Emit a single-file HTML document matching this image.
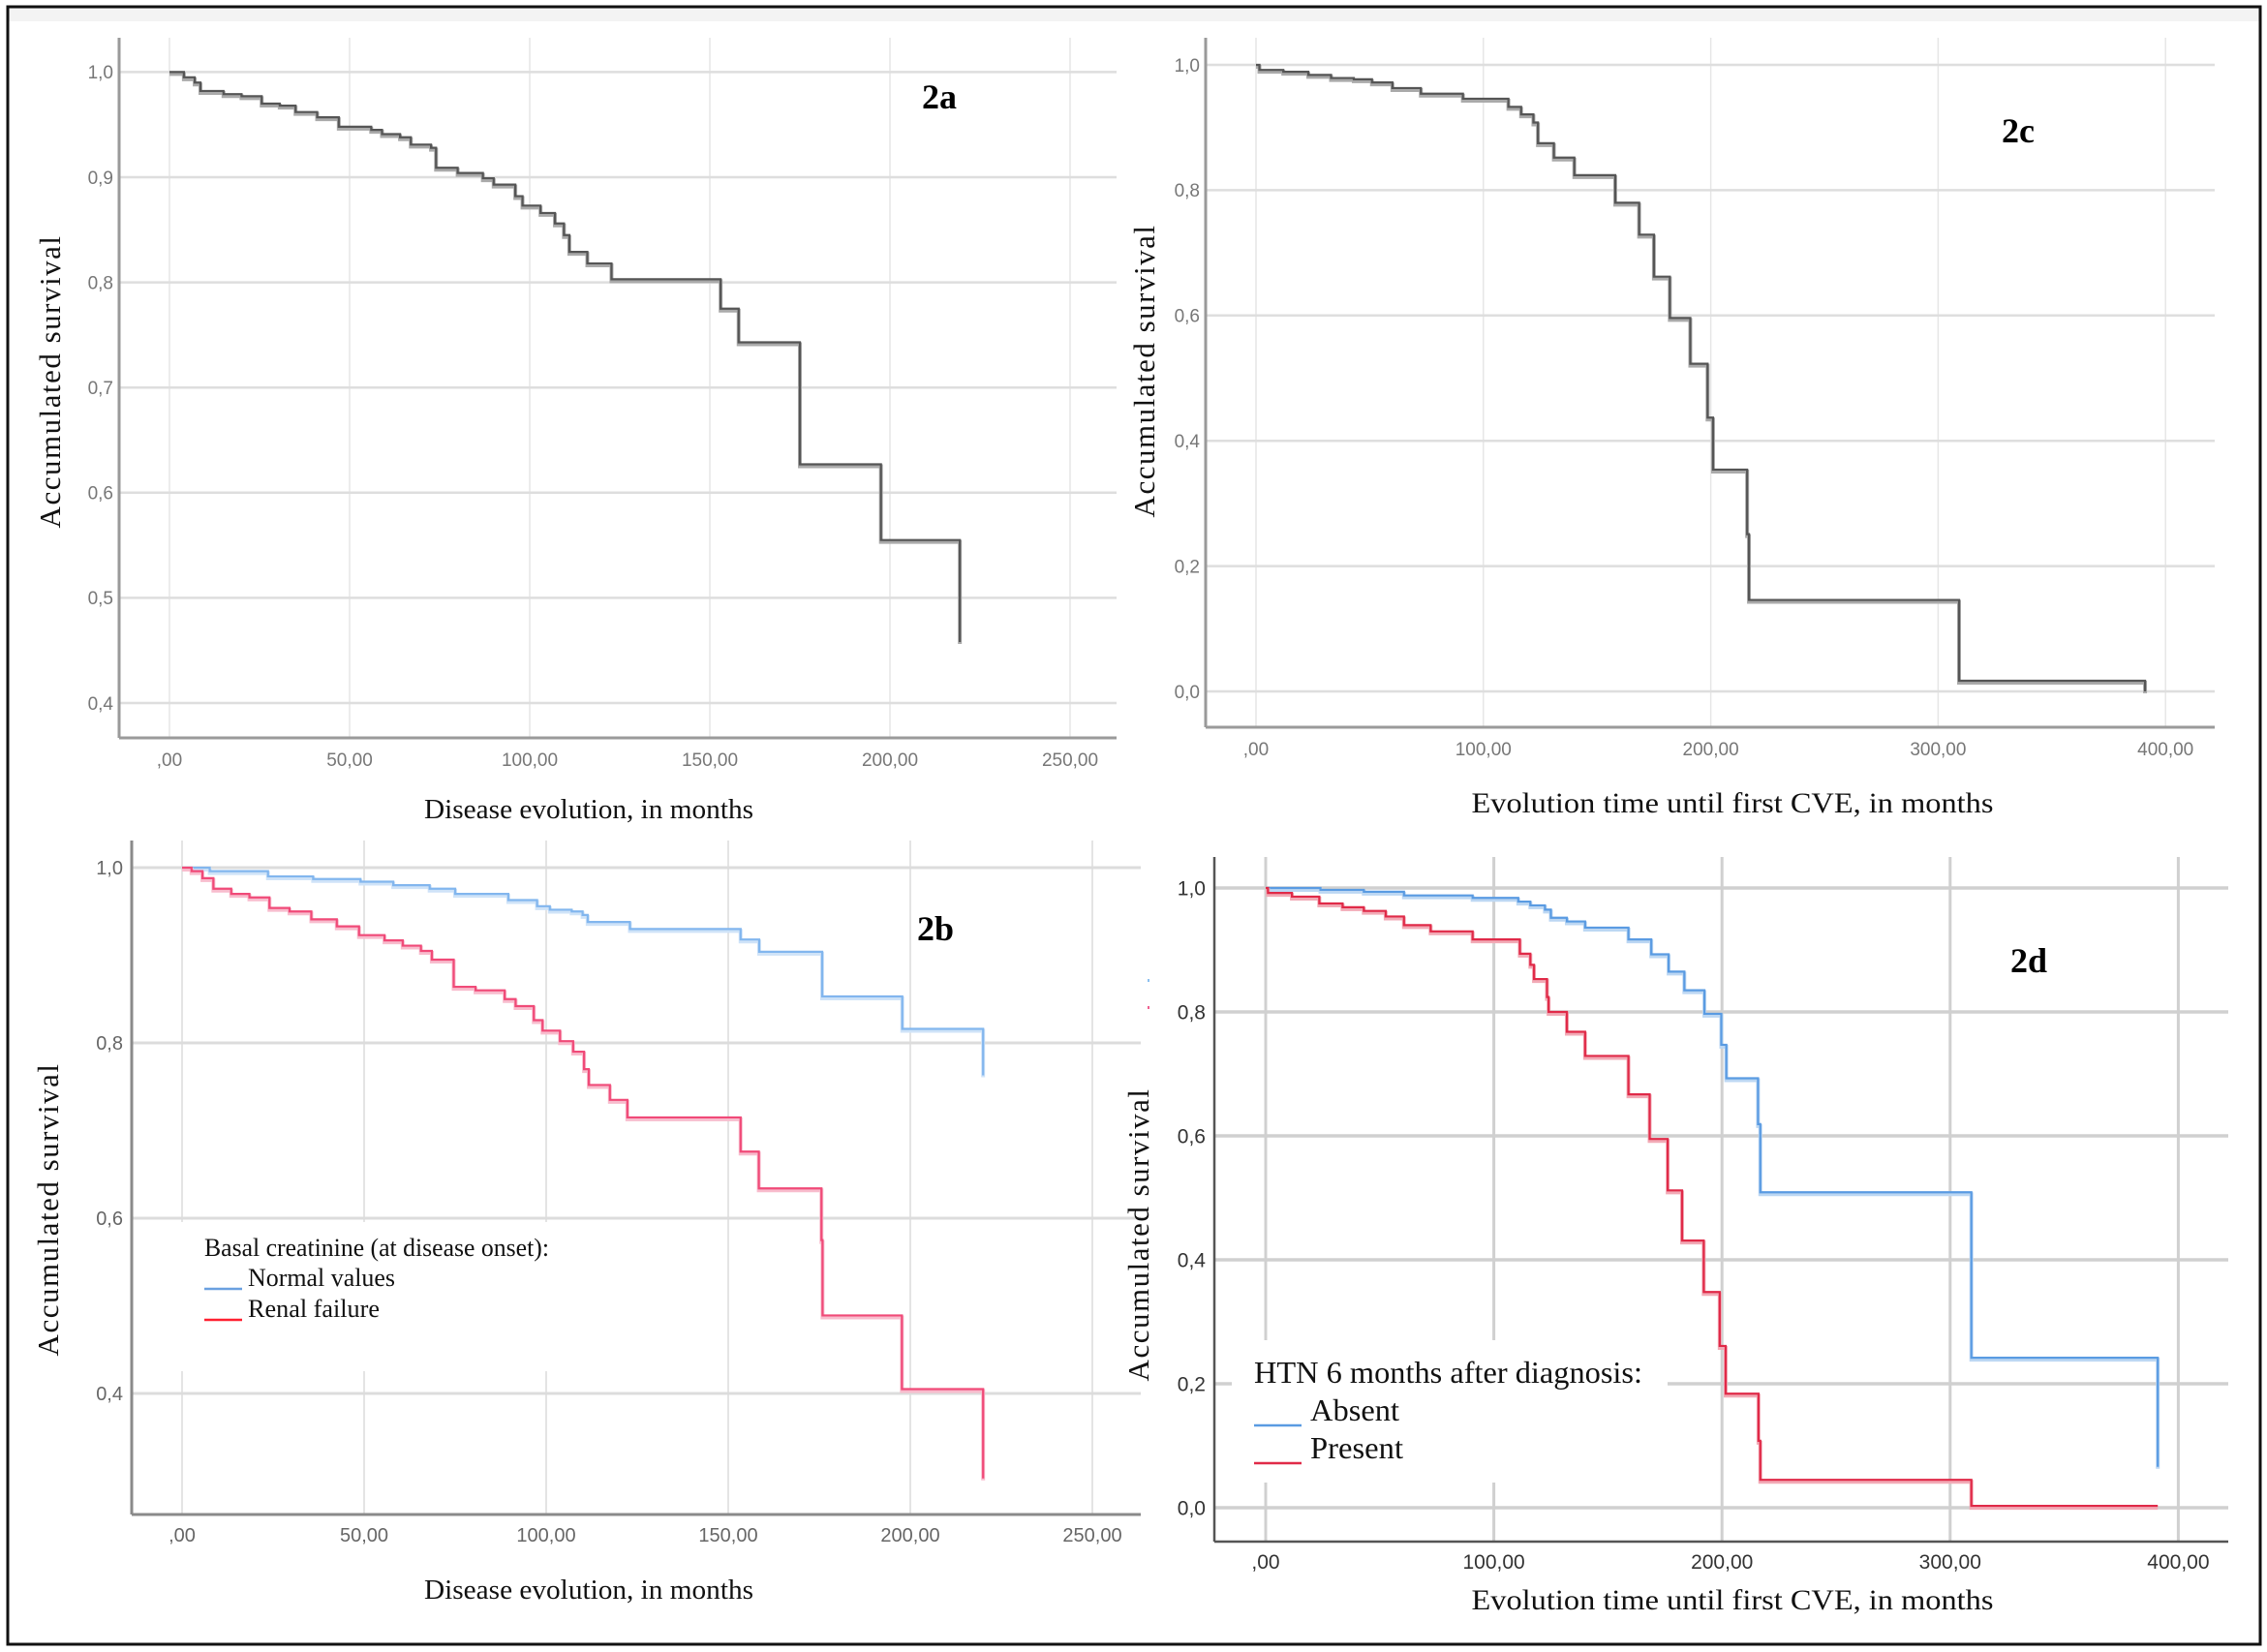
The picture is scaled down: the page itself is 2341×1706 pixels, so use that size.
<!DOCTYPE html>
<html><head><meta charset="utf-8">
<style>
html,body{margin:0;padding:0;background:#fff;}
svg{display:block;}
</style></head>
<body>
<svg id="fig" xmlns="http://www.w3.org/2000/svg" width="2341" height="1706" viewBox="0 0 2341 1706">
<rect x="0" y="0" width="2341" height="1706" fill="#fff"/>
<rect x="9" y="8" width="2324" height="14" fill="#f3f3f3"/>
<rect x="8" y="7" width="2326" height="1691" fill="none" stroke="#111" stroke-width="3"/>
</svg>
<script>
// ---- Panel 2a data ----
const aTimes = [0,4,7,8.6,15,20,25.6,30.6,35,41,47,56,59,64,67,72.6,74,80,87,90,96,98,103,107,109.5,111,116,122.7,153,158,175,197.5];
const aSurv  = [1.0,0.995,0.99,0.982,0.979,0.977,0.970,0.968,0.962,0.957,0.948,0.945,0.941,0.938,0.931,0.928,0.909,0.904,0.899,0.893,0.882,0.873,0.866,0.856,0.845,0.829,0.818,0.803,0.775,0.743,0.627,0.555];
const aEnd = [219.4,0.458];
const aXTicks = [0,50,100,150,200,250];
const aXTickLabels = [",00","50,00","100,00","150,00","200,00","250,00"];
const aYTicks = [0.4,0.5,0.6,0.7,0.8,0.9,1.0];
const aYTickLabels = ["0,4","0,5","0,6","0,7","0,8","0,9","1,0"];

// ---- Panel 2c data ----
const cTimes = [0,1.5,12,23,33,43,51,60,72.5,91,111,116.6,122,124,131,140,158,168.5,175,182,191,198.6,201,216,216.8,309.2];
const cSurv  = [1.0,0.992,0.989,0.984,0.979,0.977,0.972,0.963,0.954,0.946,0.933,0.921,0.908,0.875,0.852,0.824,0.780,0.729,0.662,0.596,0.523,0.437,0.354,0.251,0.146,0.017];
const cEnd = [391,0.0];
const cXTicks = [0,100,200,300,400];
const cXTickLabels = [",00","100,00","200,00","300,00","400,00"];
const cYTicks = [0,0.2,0.4,0.6,0.8,1.0];
const cYTickLabels = ["0,0","0,2","0,4","0,6","0,8","1,0"];

// ---- Panel 2b data ----
const bNormTimes = [0,7.6,23.6,36,49,58,68,75,89.6,97.5,101,107,110,111.4,123,153.4,158.5,175.8,197.8];
const bNormSurv  = [1.0,0.996,0.990,0.987,0.984,0.980,0.976,0.970,0.963,0.956,0.952,0.950,0.946,0.938,0.930,0.918,0.904,0.853,0.816];
const bNormEnd = [220,0.763];
const bRenTimes = [0,2.6,5.6,8.6,13.5,18.5,24,29.5,35.5,42.5,48.6,55.6,60.6,65.6,68.6,74.6,80.6,88.6,91.6,96.6,99,103.8,107.4,110.4,111.7,117.5,122.3,153.4,158.4,175.6,175.9,197.7];
const bRenSurv  = [1.0,0.996,0.988,0.976,0.970,0.966,0.954,0.950,0.941,0.933,0.923,0.917,0.911,0.905,0.895,0.864,0.860,0.850,0.842,0.826,0.814,0.802,0.790,0.770,0.752,0.735,0.715,0.676,0.634,0.575,0.489,0.405];
const bRenEnd = [220,0.303];
const bXTicks = [0,50,100,150,200,250];
const bXTickLabels = [",00","50,00","100,00","150,00","200,00","250,00"];
const bYTicks = [0.4,0.6,0.8,1.0];
const bYTickLabels = ["0,4","0,6","0,8","1,0"];

// ---- Panel 2d data ----
const dAbsTimes = [0,24,43,60.6,90.7,110.7,116,122.4,125,132,140,159,169,176.6,183.5,192.3,199.7,201.9,215.8,216.8,309.3];
const dAbsSurv  = [1.0,0.997,0.994,0.988,0.984,0.978,0.972,0.965,0.952,0.946,0.936,0.917,0.893,0.865,0.835,0.797,0.747,0.693,0.619,0.509,0.242];
const dAbsEnd = [391,0.066];
const dPreTimes = [0,1,11.5,23.5,33.7,43,52.6,60.6,72.3,90.7,111.4,116,117.6,123.3,124,132,140,159,168.3,176.2,182.5,192,199,201.6,216,216.8,309.3];
const dPreSurv  = [1.0,0.992,0.986,0.975,0.969,0.963,0.954,0.940,0.930,0.917,0.894,0.876,0.853,0.824,0.800,0.768,0.729,0.667,0.595,0.512,0.431,0.348,0.261,0.184,0.108,0.045,0.003];
const dPreEnd = [391,0.003];
const dXTicks = [0,100,200,300,400];
const dXTickLabels = [",00","100,00","200,00","300,00","400,00"];
const dYTicks = [0,0.2,0.4,0.6,0.8,1.0];
const dYTickLabels = ["0,0","0,2","0,4","0,6","0,8","1,0"];

const NS = "http://www.w3.org/2000/svg";
const svg = document.getElementById('fig');
function mk(tag, attrs, parent){
  const e = document.createElementNS(NS, tag);
  for (const k in attrs) e.setAttribute(k, attrs[k]);
  (parent||svg).appendChild(e);
  return e;
}
function panel(cfg){
  const g = mk('g', {});
  
  
  const X = v => cfg.x0 + v*cfg.ppx;
  const Y = v => cfg.y1 + (1 - v)*cfg.ppu;
  cfg.xTicks.forEach((t,i)=>{
    const l = mk('line', {x1:X(t), x2:X(t), y1:cfg.top, y2:cfg.bottom, stroke:cfg.vgrid, 'stroke-width':cfg.vgw}, g);
    
    
  });
  cfg.yTicks.forEach((t,i)=>{
    const l = mk('line', {x1:cfg.axisX, x2:cfg.right, y1:Y(t), y2:Y(t), stroke:cfg.hgrid, 'stroke-width':cfg.hgw}, g);
    
    
  });
  if (cfg.mask){
    const m = mk('rect', {x:cfg.mask[0], y:cfg.mask[1], width:cfg.mask[2], height:cfg.mask[3], fill:'#fff'}, g);
    
    
  }
  const ya = mk('line', {x1:cfg.axisX, x2:cfg.axisX, y1:cfg.top, y2:cfg.bottom, stroke:cfg.axisCol, 'stroke-width':cfg.axW}, g);
  
  
  const xa = mk('line', {x1:cfg.axisX, x2:cfg.right, y1:cfg.bottom, y2:cfg.bottom, stroke:cfg.axisCol, 'stroke-width':cfg.axW}, g);
  
  
  cfg.xTicks.forEach((t,i)=>{
    const tx = mk('text', {x:X(t), y:cfg.xLabY, 'text-anchor':'middle', 'font-family':cfg.tickFont, 'font-size':cfg.tickSize, fill:cfg.tickCol}, g);
    tx.textContent = cfg.xTickLabels[i];
    
    
  });
  cfg.yTicks.forEach((t,i)=>{
    const tx = mk('text', {x:cfg.yLabX, y:Y(t)+cfg.tickSize*0.36, 'text-anchor':'end', 'font-family':cfg.tickFont, 'font-size':cfg.tickSize, fill:cfg.tickCol}, g);
    tx.textContent = cfg.yTickLabels[i];
    
    
  });
  cfg.series.forEach(s=>{
    let d = 'M' + X(s.t[0]) + ' ' + Y(s.s[0]);
    for (let i=1;i<s.t.length;i++){
      d += ' H' + X(s.t[i]) + ' V' + Y(s.s[i]);
    }
    d += ' H' + X(s.end[0]) + ' V' + Y(s.end[1]);
    const band = mk('path', {d:d, fill:'none', stroke:s.band, 'stroke-width':4, transform:'translate(0,2)'}, g);
    
    
    const p = mk('path', {d:d, fill:'none', stroke:s.col, 'stroke-width':2.2}, g);
    
    
  });
  const xt = mk('text', {x:cfg.xTitle[0], y:cfg.xTitle[1], 'text-anchor':'middle', 'font-family':'"Liberation Serif", serif', 'font-size':cfg.xTitle[3], fill:'#111', textLength:cfg.xTitle[2], lengthAdjust:'spacingAndGlyphs'}, g);
  xt.textContent = cfg.xTitleText;
  
  
  const yt = mk('text', {x:0, y:0, 'text-anchor':'middle', 'font-family':'"Liberation Serif", serif', 'font-size':31, fill:'#111', 'letter-spacing':'1.5', transform:'translate('+cfg.yTitle[0]+','+cfg.yTitle[1]+') rotate(-90)'}, g);
  yt.textContent = 'Accumulated survival';
  
  
  const pl = mk('text', {x:cfg.label[0], y:cfg.label[1]+12, 'text-anchor':'middle', 'font-family':'"Liberation Serif", serif', 'font-size':36, 'font-weight':'bold', fill:'#000'}, g);
  pl.textContent = cfg.id;
  
  
  return g;
}
const narrow = '"Liberation Sans Narrow", "Liberation Sans", sans-serif';
panel({id:'2a', x0:175, ppx:3.72, y1:74.4, ppu:1086, axisX:123, top:39, bottom:762, right:1153,
  vgrid:'#e6e6e6', vgw:1.5, hgrid:'#dedede', hgw:2.5, axisCol:'#9a9a9a', axW:3,
  xTicks:aXTicks, xTickLabels:aXTickLabels, yTicks:aYTicks, yTickLabels:aYTickLabels,
  xLabY:791, yLabX:117, tickFont:narrow, tickSize:19, tickCol:'#777',
  series:[{name:'survival-2a', t:aTimes, s:aSurv, end:aEnd, col:'#555', band:'#aaa'}],
  xTitle:[608,845,340,29], xTitleText:'Disease evolution, in months', yTitle:[62,394], label:[970,100]});
panel({id:'2c', x0:1297, ppx:2.348, y1:67, ppu:647, axisX:1245, top:39, bottom:751, right:2287,
  vgrid:'#e6e6e6', vgw:1.5, hgrid:'#dedede', hgw:2.5, axisCol:'#9a9a9a', axW:3,
  xTicks:cXTicks, xTickLabels:cXTickLabels, yTicks:cYTicks, yTickLabels:cYTickLabels,
  xLabY:780, yLabX:1239, tickFont:narrow, tickSize:19, tickCol:'#777',
  series:[{name:'survival-2c', t:cTimes, s:cSurv, end:cEnd, col:'#555', band:'#aaa'}],
  xTitle:[1789,839,539,30], xTitleText:'Evolution time until first CVE, in months', yTitle:[1192,383], label:[2084,135]});
panel({id:'2b', x0:188, ppx:3.76, y1:896, ppu:905, axisX:136, top:868, bottom:1564, right:1178,
  vgrid:'#e4e4e4', vgw:2, hgrid:'#dcdcdc', hgw:3, axisCol:'#8a8a8a', axW:3,
  xTicks:bXTicks, xTickLabels:bXTickLabels, yTicks:bYTicks, yTickLabels:bYTickLabels,
  xLabY:1592, yLabX:127, tickFont:narrow, tickSize:20, tickCol:'#666',
  mask:[186,1262,380,154],
  series:[{name:'normal-values', t:bNormTimes, s:bNormSurv, end:bNormEnd, col:'#82b6ee', band:'#cfe3f8'},
          {name:'renal-failure', t:bRenTimes, s:bRenSurv, end:bRenEnd, col:'#f04a78', band:'#f8bccd'}],
  xTitle:[608,1651,340,29], xTitleText:'Disease evolution, in months', yTitle:[60,1249], label:[966,959]});
panel({id:'2d', x0:1307, ppx:2.356, y1:917, ppu:640, axisX:1254, top:885, bottom:1592, right:2301,
  vgrid:'#d0d0d0', vgw:3, hgrid:'#d0d0d0', hgw:3.5, axisCol:'#555', axW:2.5,
  xTicks:dXTicks, xTickLabels:dXTickLabels, yTicks:dYTicks, yTickLabels:dYTickLabels,
  xLabY:1620, yLabX:1245, tickFont:narrow, tickSize:21, tickCol:'#333',
  mask:[1272,1384,450,147],
  series:[{name:'absent', t:dAbsTimes, s:dAbsSurv, end:dAbsEnd, col:'#5a9be2', band:'#bcd7f3'},
          {name:'present', t:dPreTimes, s:dPreSurv, end:dPreEnd, col:'#e02a48', band:'#f2aab6'}],
  xTitle:[1789,1662,539,30], xTitleText:'Evolution time until first CVE, in months', yTitle:[1186,1275], label:[2095,992]});

function legendText(x,y,txt,size,len,name){
  const t = mk('text', {x:x, y:y, 'font-family':'"Liberation Serif", serif', 'font-size':size, fill:'#111', textLength:len, lengthAdjust:'spacingAndGlyphs'});
  t.textContent = txt;
  
  
}
function legendLine(x1,x2,y,col,name){
  const l = mk('line', {x1:x1, x2:x2, y1:y, y2:y, stroke:col, 'stroke-width':2.5});
  
  
}
legendText(211,1297,'Basal creatinine (at disease onset):',26,356,'legend-title-2b');
legendLine(211,250,1331,'#6aa0e0','legend-swatch-normal');
legendText(256,1328,'Normal values',26,152,'legend-label-normal');
legendLine(211,250,1363,'#ff2030','legend-swatch-renal');
legendText(256,1360,'Renal failure',26,136,'legend-label-renal');
legendText(1295,1428,'HTN 6 months after diagnosis:',32,401,'legend-title-2d');
legendLine(1295,1344,1472,'#5a9be2','legend-swatch-absent');
legendText(1353,1467,'Absent',32,92,'legend-label-absent');
legendLine(1295,1344,1511,'#e02a48','legend-swatch-present');
legendText(1353,1506,'Present',32,96,'legend-label-present');
const m1 = mk('rect', {x:1185, y:1011, width:2, height:3, fill:'#8cc0f0'});


const m2 = mk('rect', {x:1185, y:1039, width:2, height:3, fill:'#f06090'});


</script>
</body></html>
